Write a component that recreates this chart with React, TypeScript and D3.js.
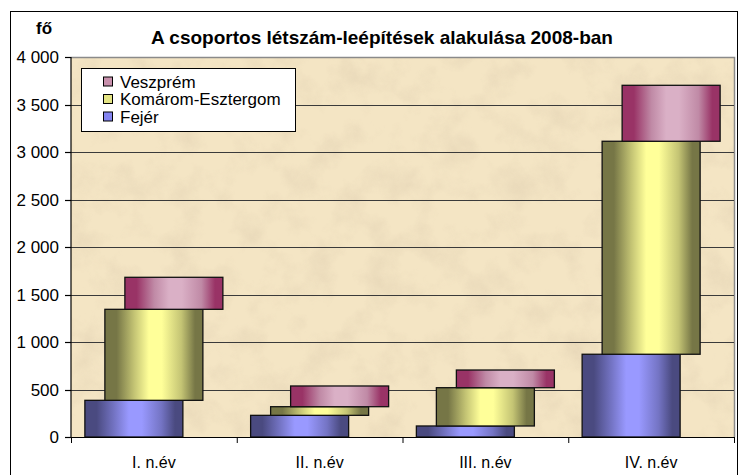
import React from "react";
import * as d3 from "d3";

const categories = ["I. n.év", "II. n.év", "III. n.év", "IV. n.év"];
const fejer = [386, 228, 116, 871];
const komarom = [958, 91, 403, 2242];
const veszprem = [337, 218, 186, 589];
const yTicks = [0, 500, 1000, 1500, 2000, 2500, 3000, 3500, 4000];
const seriesNames = ["Fejér", "Komárom-Esztergom", "Veszprém"];
const legendOrder = ["Veszprém", "Komárom-Esztergom", "Fejér"];

const W = 745;
const H = 475;
const plot = { left: 71, right: 734, top: 57, bottom: 437 };

const seriesStyle: Record<string, { dark: string; mid: string; light: string; swatch: string; offset: number }> = {
  "Fejér": { dark: "#4a4a80", mid: "#7474c4", light: "#9999ff", swatch: "#8484f0", offset: -20 },
  "Komárom-Esztergom": { dark: "#767646", mid: "#c4c474", light: "#ffff99", swatch: "#e4e484", offset: 0 },
  "Veszprém": { dark: "#993366", mid: "#c08aa6", light: "#dab0c6", swatch: "#c890ac", offset: 20 },
};

const fmt = (v: number) => d3.format(",")(v).replace(/,/g, " ");

export default function App() {
  const x = d3.scaleBand<string>().domain(categories).range([plot.left, plot.right]).padding(0);
  const y = d3.scaleLinear().domain([0, 4000]).range([plot.bottom, plot.top]);
  const barW = 98;

  const data = categories.map((c, i) => ({ c, Fejér: fejer[i], "Komárom-Esztergom": komarom[i], Veszprém: veszprem[i] }));
  const stack = d3.stack<any>().keys(seriesNames)(data);

  const font = "'Liberation Sans', Arial, sans-serif";

  return (
    <svg width={W} height={H} style={{ position: "absolute", left: 0, top: 0 }} fontFamily={font}>
      <defs>
        {seriesNames.map((s, i) => {
          const st = seriesStyle[s];
          return (
            <linearGradient id={`g${i}`} key={s} x1="0" x2="1" y1="0" y2="0">
              <stop offset="0" stopColor={st.dark} />
              <stop offset="0.12" stopColor={st.dark} />
              <stop offset="0.3" stopColor={st.mid} />
              <stop offset="0.45" stopColor={st.light} />
              <stop offset="0.58" stopColor={st.light} />
              <stop offset="0.78" stopColor={st.mid} />
              <stop offset="0.92" stopColor={st.dark} />
              <stop offset="1" stopColor={st.dark} />
            </linearGradient>
          );
        })}
        <filter id="paper" x="0" y="0" width="100%" height="100%">
          <feTurbulence type="fractalNoise" baseFrequency="0.03" numOctaves="5" seed="7" result="n" />
          <feColorMatrix
            in="n"
            type="matrix"
            values="0 0 0 0 0.80  0 0 0 0 0.68  0 0 0 0 0.48  2.2 0 0 0 -0.95"
          />
        </filter>
      </defs>

      <rect x={0} y={0} width={W} height={H} fill="#ffffff" />
      <rect x={10.5} y={11.5} width={727} height={480} fill="none" stroke="#000" strokeWidth={1} />

      {/* plot background */}
      <rect x={plot.left} y={plot.top} width={plot.right - plot.left} height={plot.bottom - plot.top} fill="#f4e5c4" />
      <rect x={plot.left} y={plot.top} width={plot.right - plot.left} height={plot.bottom - plot.top} fill="#f4e5c4" filter="url(#paper)" opacity={0.8} />
      <path
        d={`M${plot.left},${plot.top + 0.5}H${plot.right + 0.5}V${plot.bottom}`}
        fill="none"
        stroke="#8a8a8a"
        strokeWidth={1.5}
      />

      {/* gridlines */}
      {yTicks.filter((t) => t > 0 && t < 4000).map((t) => (
        <line key={t} x1={plot.left} x2={plot.right} y1={Math.round(y(t)) + 0.5} y2={Math.round(y(t)) + 0.5} stroke="#3a3a3a" strokeWidth={1.2} />
      ))}

      {/* bars */}
      {stack.map((layer, si) => {
        const name = seriesNames[si];
        const st = seriesStyle[name];
        return (
          <g key={name}>
            {layer.map((d: any, i: number) => {
              const cx = (x(categories[i]) as number) + x.bandwidth() / 2 + st.offset;
              const y0 = y(d[0]);
              const y1 = y(d[1]);
              return (
                <rect
                  key={i}
                  x={cx - barW / 2}
                  y={y1}
                  width={barW}
                  height={Math.max(0, y0 - y1)}
                  fill={`url(#g${si})`}
                  stroke="#111"
                  strokeWidth={1.3}
                />
              );
            })}
          </g>
        );
      })}

      {/* axes */}
      <line x1={plot.left} x2={plot.left} y1={plot.top} y2={plot.bottom} stroke="#000" strokeWidth={1.2} />
      <line x1={plot.left - 6} x2={plot.right} y1={plot.bottom + 0.5} y2={plot.bottom + 0.5} stroke="#000" strokeWidth={1.2} />
      {yTicks.map((t) => (
        <g key={t}>
          <line x1={plot.left - 6} x2={plot.left} y1={Math.round(y(t)) + 0.5} y2={Math.round(y(t)) + 0.5} stroke="#000" strokeWidth={1.2} />
          <text x={59} y={y(t)} dy="0.36em" textAnchor="end" fontSize={17} fill="#000">
            {fmt(t)}
          </text>
        </g>
      ))}
      {categories.map((c, i) => (
        <line
          key={"t" + i}
          x1={(x(c) as number) + 0.5}
          x2={(x(c) as number) + 0.5}
          y1={plot.bottom}
          y2={plot.bottom + 6}
          stroke="#000"
          strokeWidth={1}
        />
      ))}
      <line x1={plot.right + 0.5} x2={plot.right + 0.5} y1={plot.bottom} y2={plot.bottom + 6} stroke="#000" strokeWidth={1} />
      {categories.map((c) => (
        <text key={c} x={(x(c) as number) + x.bandwidth() / 2} y={468} textAnchor="middle" fontSize={16} fill="#000">
          {c}
        </text>
      ))}

      {/* title */}
      <text x={382} y={44} textAnchor="middle" fontSize={19} fontWeight="bold" fill="#000">
        A csoportos létszám-leépítések alakulása 2008-ban
      </text>
      <text x={36} y={34} fontSize={17} fontWeight="bold" fill="#000">
        fő
      </text>

      {/* legend */}
      <rect x={81.5} y={68.5} width={214} height={63} fill="#fff" stroke="#000" strokeWidth={1} />
      {legendOrder.map((s, i) => {
        const st = seriesStyle[s];
        const cy = 81.5 + i * 17.5;
        return (
          <g key={s}>
            <rect x={103.5} y={cy - 4.5} width={9} height={9} fill={st.swatch} stroke="#000" strokeWidth={1} />
            <text x={120} y={cy} dy="0.36em" fontSize={17} fill="#000">
              {s}
            </text>
          </g>
        );
      })}
    </svg>
  );
}
